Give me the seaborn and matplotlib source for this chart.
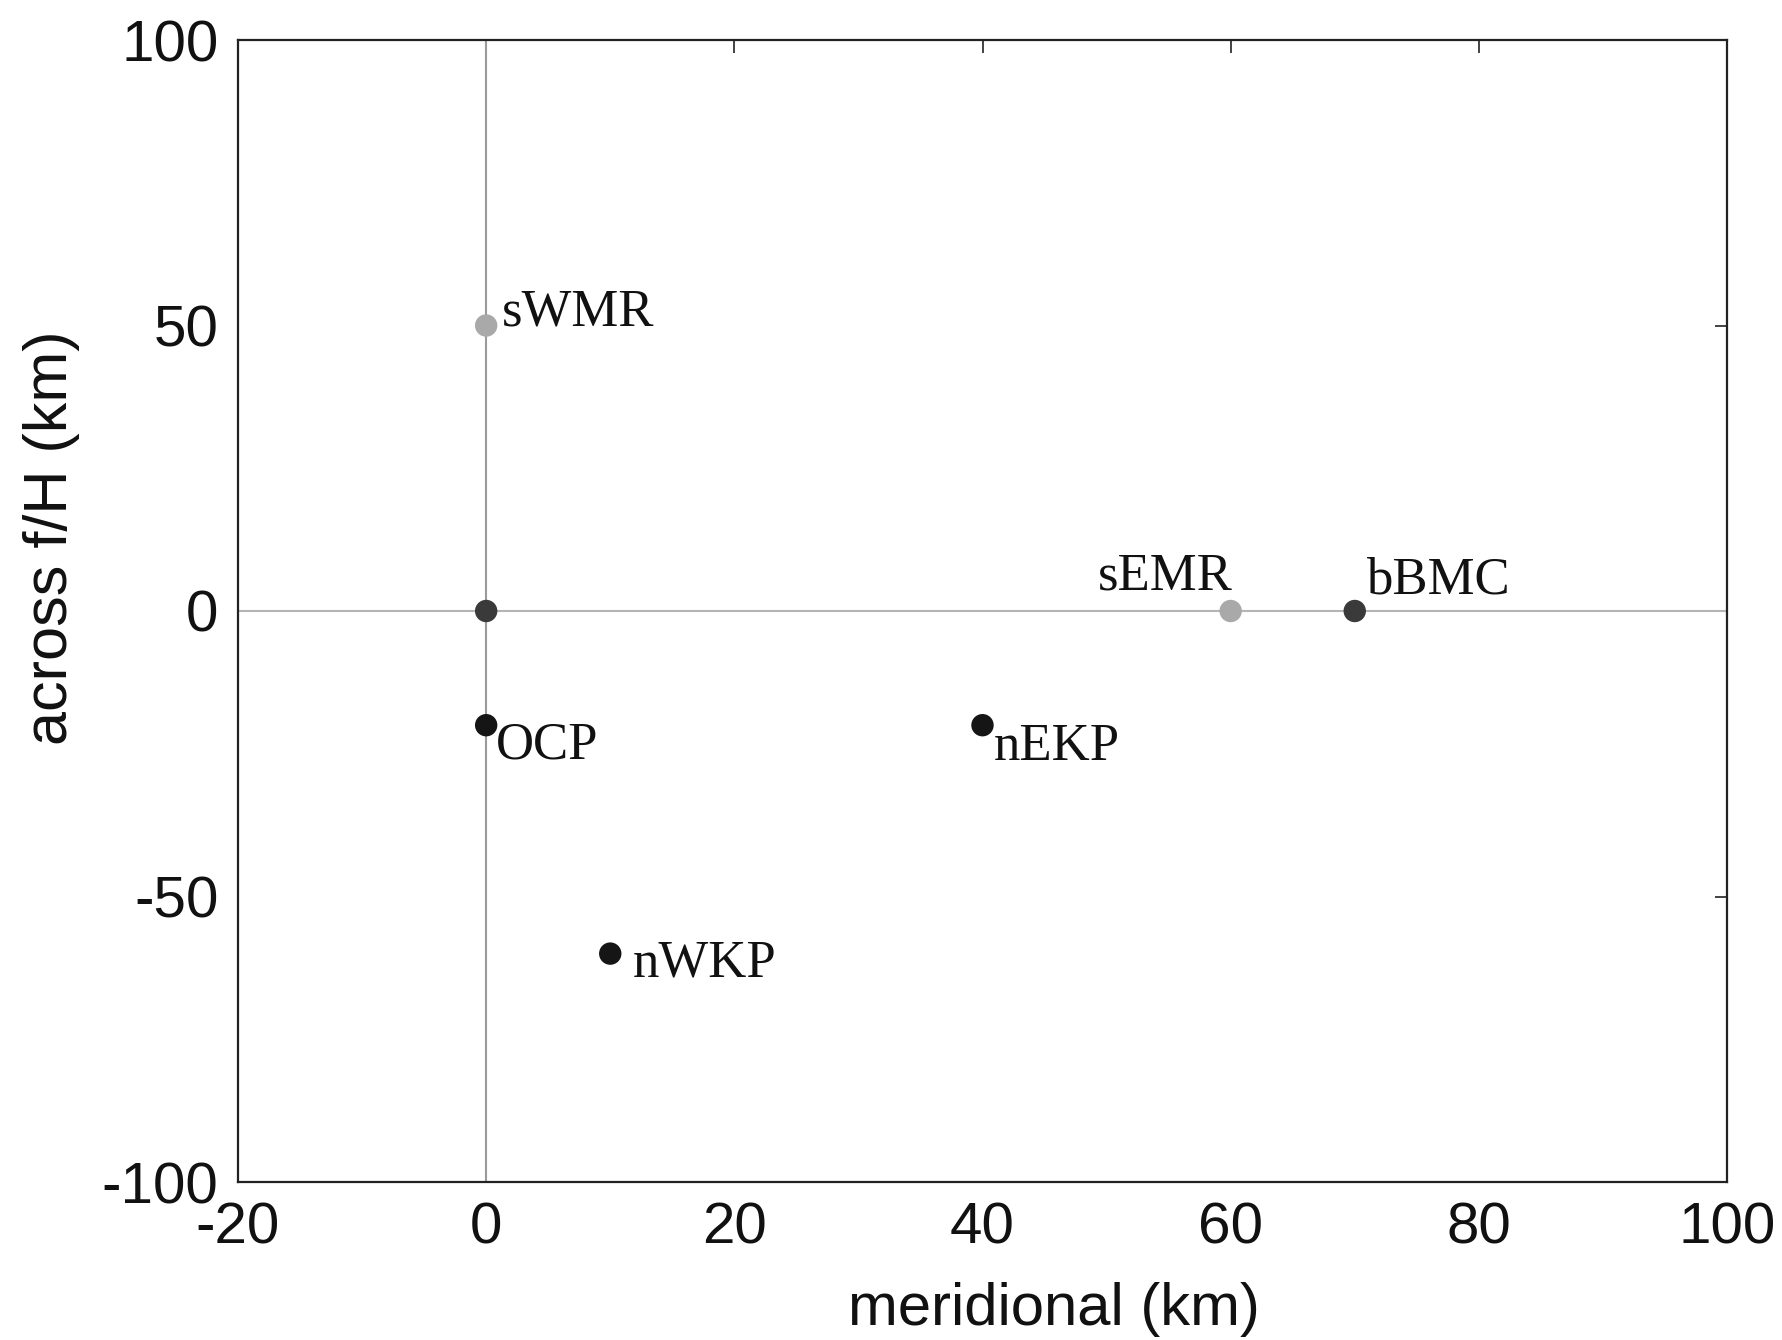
import matplotlib
matplotlib.use("Agg")
import matplotlib.pyplot as plt
import seaborn as sns
import pandas as pd

# ---- data ----
site_names = ["sWMR", "", "sEMR", "bBMC", "OCP", "nEKP", "nWKP"]
meridional_km = [0, 0, 60, 70, 0, 40, 10]
across_fH_km = [50, 0, 0, 0, -20, -20, -60]
groups = ["light", "dark", "light", "dark", "black", "black", "black"]

x_ticks = [-20, 0, 20, 40, 60, 80, 100]
y_ticks = [-100, -50, 0, 50, 100]

df = pd.DataFrame({"x": meridional_km, "y": across_fH_km, "g": groups, "name": site_names})

sns.set_theme(style="white")
plt.rcParams["font.family"] = ["Liberation Sans", "DejaVu Sans"]
plt.rcParams["axes.unicode_minus"] = False

fig = plt.figure(figsize=(17.83, 13.40), dpi=100)
ax = fig.add_axes([238 / 1783, 1 - 1182 / 1340, (1727 - 238) / 1783, (1182 - 40) / 1340])

ax.axvline(0, color="#9a9a9a", lw=1.5, zorder=1)
ax.axhline(0, color="#b5b5b5", lw=1.5, zorder=1)

palette = {"light": "#a9a9a9", "dark": "#3a3a3a", "black": "#151515"}
sns.scatterplot(data=df, x="x", y="y", hue="g", palette=palette, s=260,
                edgecolor="none", legend=False, ax=ax, zorder=3)

# label offsets in pixels (ha, dx, dy) measured relative to each point
offsets = {
    "sWMR": ("left", 16, 0),
    "sEMR": ("right", 2, 22),
    "bBMC": ("left", 11, 18),
    "OCP": ("left", 10, -33),
    "nEKP": ("left", 11, -35),
    "nWKP": ("left", 22, -23),
}
for xi, yi, nm in zip(meridional_km, across_fH_km, site_names):
    if not nm:
        continue
    ha, dx, dy = offsets[nm]
    ax.annotate(nm, (xi, yi), xytext=(dx, dy), textcoords="offset pixels",
                ha=ha, va="baseline", fontsize=38, family="Liberation Serif",
                color="#111111", zorder=4)

ax.set_xlim(-20, 100)
ax.set_ylim(-100, 100)
ax.set_xticks(x_ticks)
ax.set_yticks(y_ticks)
ax.tick_params(axis="both", which="both", direction="in", length=9, width=1.2,
               color="#222222", labelsize=42, top=True, right=True,
               labelcolor="#111111")
ax.tick_params(axis="x", pad=14)
ax.tick_params(axis="y", pad=14)
for s in ax.spines.values():
    s.set_visible(True)
    s.set_color("#222222")
    s.set_linewidth(1.6)

ax.set_xlabel("meridional (km)", fontsize=43, color="#111111")
ax.set_ylabel("across f/H (km)", fontsize=44, color="#111111")
ax.xaxis.set_label_coords(0.548, -0.088)
ax.yaxis.set_label_coords(-0.106, 0.564)
ax.grid(False)

fig.savefig("out.png", dpi=100, facecolor="white")
